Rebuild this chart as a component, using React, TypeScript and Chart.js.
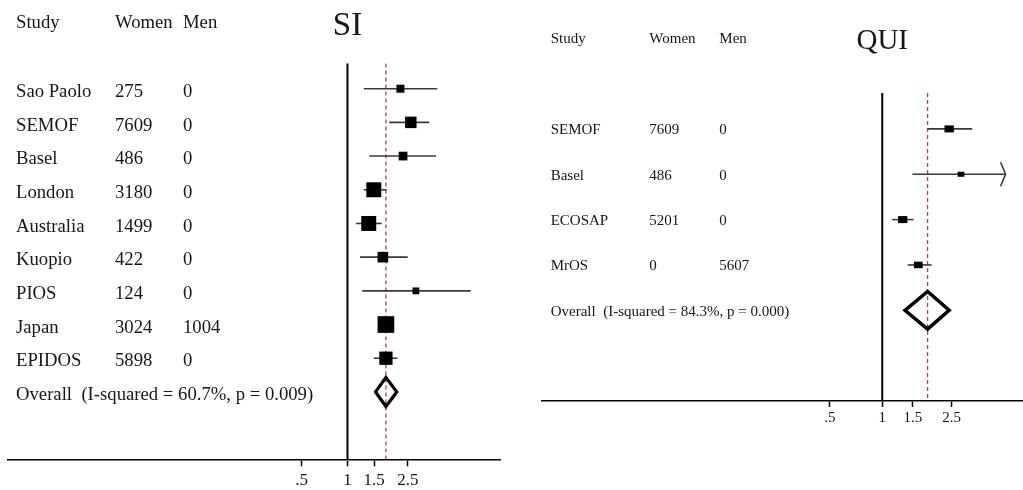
import React, { useEffect, useRef } from "react";
import { Chart, registerables } from "chart.js";

Chart.register(...registerables);

// ---------- shared ----------
const headers = ["Study", "Women", "Men"];
const tickValues = [0.5, 1, 1.5, 2.5];
const tickLabels = [".5", "1", "1.5", "2.5"];

// ---------- SI panel ----------
const siTitle = "SI";
const siStudies = ["Sao Paolo", "SEMOF", "Basel", "London", "Australia", "Kuopio", "PIOS", "Japan", "EPIDOS"];
const siWomen = ["275", "7609", "486", "3180", "1499", "422", "124", "3024", "5898"];
const siMen = ["0", "0", "0", "0", "0", "0", "0", "1004", "0"];
const siEst = [2.23, 2.61, 2.32, 1.49, 1.38, 1.71, 2.82, 1.79, 1.79];
const siLo = [1.28, 1.88, 1.39, 1.28, 1.14, 1.21, 1.25, 1.65, 1.49];
const siHi = [3.9, 3.45, 3.82, 1.81, 1.68, 2.49, 6.47, 1.95, 2.13];
const siWeight = [4.8, 9.9, 5.7, 16.8, 16.8, 8.5, 3.4, 20.9, 13.2];
const siOverall = [1.79, 1.53, 2.11]; // est, lo, hi
const siOverallLabel = "Overall  (I-squared = 60.7%, p = 0.009)";

// ---------- QUI panel ----------
const quiTitle = "QUI";
const quiStudies = ["SEMOF", "Basel", "ECOSAP", "MrOS"];
const quiWomen = ["7609", "486", "5201", "0"];
const quiMen = ["0", "0", "0", "5607"];
const quiEst = [2.42, 2.83, 1.31, 1.61];
const quiLo = [1.82, 1.49, 1.14, 1.4];
const quiHi = [3.28, 6.0, 1.51, 1.92];
const quiWeight = [29.4, 15.4, 29.4, 25.9];
const quiOverall = [1.82, 1.35, 2.42];
const quiOverallLabel = "Overall  (I-squared = 84.3%, p = 0.000)";

const TEXT = "#15151f";
const CI_COLOR = "#3a3a3a";
const DASH_COLOR = "#a8474c";
const SERIF = '"Liberation Serif", "Times New Roman", serif';

type Panel = {
  title: string;
  studies: string[];
  women: string[];
  men: string[];
  est: number[];
  lo: number[];
  hi: number[];
  weight: number[];
  overall: number[];
  overallLabel: string;
  left: number;
  width: number;
  xMin: number;
  xMax: number;
  clipMax: number;
  yMin: number;
  yMax: number;
  padding: { left: number; right: number; top: number; bottom: number };
  cols: number[];
  fontSize: number;
  rowBaseDy: number;
  headerBaseline: number;
  titleSize: number;
  titleBaseline: number;
  boxScale: number;
  boxAspect: number;
  diamondHalf: number;
  diamondWidth: number;
  lineTop: number;
  tickFont: number;
  tickLineHeight: number;
  tickLen: number;
  tickPad: number;
};

const panels: Panel[] = [
  {
    title: siTitle,
    studies: siStudies,
    women: siWomen,
    men: siMen,
    est: siEst,
    lo: siLo,
    hi: siHi,
    weight: siWeight,
    overall: siOverall,
    overallLabel: siOverallLabel,
    left: 0,
    width: 520,
    xMin: 0.00584,
    xMax: 10.08,
    clipMax: 10.08,
    yMin: -2,
    yMax: 11,
    padding: { left: 8, right: 20, top: 21.3, bottom: -5.3 },
    cols: [16, 115, 183],
    fontSize: 18.7,
    rowBaseDy: 8.2,
    headerBaseline: 27.5,
    titleSize: 33,
    titleBaseline: 35,
    boxScale: 3.65,
    boxAspect: 1,
    diamondHalf: 14.5,
    diamondWidth: 3.2,
    lineTop: -0.75,
    tickFont: 17,
    tickLineHeight: 1,
    tickLen: 7,
    tickPad: 6,
  },
  {
    title: quiTitle,
    studies: quiStudies,
    women: quiWomen,
    men: quiMen,
    est: quiEst,
    lo: quiLo,
    hi: quiHi,
    weight: quiWeight,
    overall: quiOverall,
    overallLabel: quiOverallLabel,
    left: 520,
    width: 503,
    xMin: 0.01116,
    xMax: 6.42,
    clipMax: 5.1,
    yMin: -2,
    yMax: 6,
    padding: { left: 22, right: 0, top: 38.2, bottom: 61 },
    cols: [30.7, 129.3, 199.3],
    fontSize: 15,
    rowBaseDy: 5.5,
    headerBaseline: 43,
    titleSize: 29,
    titleBaseline: 49.3,
    boxScale: 1.72,
    boxAspect: 0.75,
    diamondHalf: 18.8,
    diamondWidth: 3.5,
    lineTop: -0.79,
    tickFont: 15,
    tickLineHeight: 1,
    tickLen: 6,
    tickPad: 3.5,
  },
];

function makeForestPlugin(p: Panel) {
  return {
    id: "forest",
    afterDraw(chart: any) {
      const { ctx, chartArea } = chart;
      const xs = chart.scales.x;
      const ys = chart.scales.y;
      const X = (v: number) => xs.getPixelForValue(v);
      const Y = (r: number) => ys.getPixelForValue(r);
      const n = p.studies.length;
      ctx.save();

      // text columns
      ctx.fillStyle = TEXT;
      ctx.textBaseline = "alphabetic";
      ctx.textAlign = "left";
      ctx.font = `${p.fontSize}px ${SERIF}`;
      headers.forEach((h, k) => ctx.fillText(h, p.cols[k], p.headerBaseline));
      for (let i = 0; i < n; i++) {
        const by = Y(i) + p.rowBaseDy;
        ctx.fillText(p.studies[i], p.cols[0], by);
        ctx.fillText(p.women[i], p.cols[1], by);
        ctx.fillText(p.men[i], p.cols[2], by);
      }
      ctx.fillText(p.overallLabel, p.cols[0], Y(n) + p.rowBaseDy);

      // title
      ctx.font = `${p.titleSize}px ${SERIF}`;
      ctx.textAlign = "center";
      ctx.fillText(p.title, X(1), p.titleBaseline);

      const bottom = chartArea.bottom;

      // null line
      ctx.strokeStyle = "#000";
      ctx.lineWidth = 2;
      ctx.beginPath();
      ctx.moveTo(X(1), Y(p.lineTop));
      ctx.lineTo(X(1), bottom);
      ctx.stroke();

      // overall dashed line
      ctx.strokeStyle = DASH_COLOR;
      ctx.lineWidth = 1.3;
      ctx.setLineDash([4, 3]);
      ctx.beginPath();
      ctx.moveTo(X(p.overall[0]), Y(p.lineTop));
      ctx.lineTo(X(p.overall[0]), bottom);
      ctx.stroke();
      ctx.setLineDash([]);

      // confidence intervals
      ctx.strokeStyle = CI_COLOR;
      ctx.lineWidth = 1.6;
      for (let i = 0; i < n; i++) {
        const y = Y(i);
        const x1 = X(p.lo[i]);
        const clipped = p.hi[i] > p.clipMax;
        const x2 = X(Math.min(p.hi[i], p.clipMax));
        ctx.beginPath();
        ctx.moveTo(x1, y);
        ctx.lineTo(x2, y);
        ctx.stroke();
        if (clipped) {
          ctx.beginPath();
          ctx.moveTo(x2 - 5, y - 12);
          ctx.lineTo(x2, y);
          ctx.lineTo(x2 - 5, y + 12);
          ctx.stroke();
        }
      }

      // weighted boxes
      ctx.fillStyle = "#000";
      for (let i = 0; i < n; i++) {
        const w = p.boxScale * Math.sqrt(p.weight[i]);
        const h = w * p.boxAspect;
        ctx.fillRect(X(p.est[i]) - w / 2, Y(i) - h / 2, w, h);
      }

      // overall diamond
      const dy = Y(n);
      ctx.strokeStyle = "#000";
      ctx.lineWidth = p.diamondWidth;
      ctx.lineJoin = "miter";
      ctx.beginPath();
      ctx.moveTo(X(p.overall[1]), dy);
      ctx.lineTo(X(p.overall[0]), dy - p.diamondHalf);
      ctx.lineTo(X(p.overall[2]), dy);
      ctx.lineTo(X(p.overall[0]), dy + p.diamondHalf);
      ctx.closePath();
      ctx.stroke();

      ctx.restore();
    },
  };
}

function ForestPanel({ p }: { p: Panel }) {
  const ref = useRef<HTMLCanvasElement | null>(null);
  useEffect(() => {
    if (!ref.current) return;
    const chart = new Chart(ref.current, {
      type: "scatter",
      data: {
        datasets: [
          {
            data: p.est.map((v, i) => ({ x: v, y: i })),
            pointRadius: 0,
            pointHoverRadius: 0,
            showLine: false,
          },
        ],
      },
      options: {
        responsive: false,
        animation: false,
        events: [],
        layout: { padding: p.padding },
        plugins: {
          legend: { display: false },
          tooltip: { enabled: false },
          title: { display: false },
        },
        scales: {
          x: {
            type: "logarithmic",
            min: p.xMin,
            max: p.xMax,
            bounds: "data",
            afterBuildTicks: (scale: any) => {
              scale.ticks = tickValues.map((v) => ({ value: v }));
            },
            ticks: {
              autoSkip: false,
              maxRotation: 0,
              padding: p.tickPad,
              color: TEXT,
              font: { family: SERIF, size: p.tickFont, lineHeight: p.tickLineHeight },
              callback: (_v: any, idx: number) => tickLabels[idx],
            },
            grid: {
              drawOnChartArea: false,
              drawTicks: true,
              tickLength: p.tickLen,
              tickWidth: 1.5,
              tickColor: "#000",
            },
            border: { display: true, color: "#000", width: 1.6 },
          },
          y: {
            type: "linear",
            reverse: true,
            min: p.yMin,
            max: p.yMax,
            display: false,
          },
        },
      },
      plugins: [makeForestPlugin(p)],
    } as any);
    return () => chart.destroy();
  }, [p]);
  return (
    <canvas
      ref={ref}
      width={p.width}
      height={490}
      style={{ position: "absolute", left: p.left, top: 0, width: p.width, height: 490 }}
    />
  );
}

export default function App() {
  return (
    <div style={{ position: "absolute", left: 0, top: 0, width: 1023, height: 490, background: "#fff" }}>
      {panels.map((p) => (
        <ForestPanel key={p.title} p={p} />
      ))}
    </div>
  );
}
